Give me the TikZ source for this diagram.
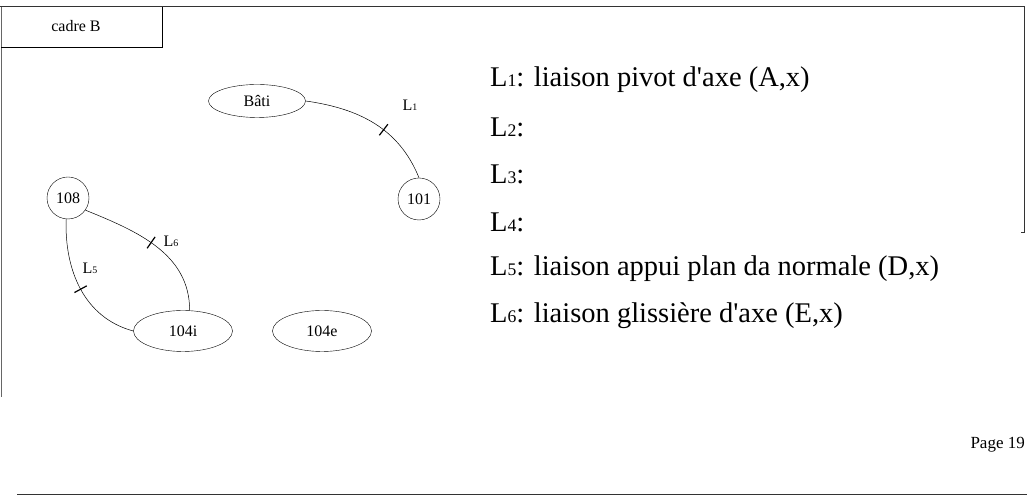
\documentclass[tikz,border=0pt]{standalone}
\usepackage{fontspec}
\setmainfont{Liberation Serif}[Ligatures=TeXOff]
\usetikzlibrary{shapes.geometric}
\newcommand{\Lk}[1]{L{\fontsize{0.62em}{1em}\selectfont #1}}
\tikzset{
  x=1pt, y=1pt,
  frameline/.style={line width=1pt, black!80},
  part/.style={draw, ellipse, inner sep=0pt, font=\fontsize{16}{18}\selectfont},
  round part/.style={draw, circle, inner sep=0pt, minimum size=42pt, font=\fontsize{16}{18}\selectfont},
  link/.style={line width=0.5pt},
  linkmark/.style={sloped, draw, rectangle, line width=1.2pt, minimum width=0pt, minimum height=14pt, inner sep=0pt},
  linklabel/.style={font=\fontsize{16}{18}\selectfont, inner sep=0pt},
  legend/.style={anchor=west, inner sep=0pt, font=\fontsize{28.5}{32}\selectfont}
}
\begin{document}
\begin{tikzpicture}
\useasboundingbox (0,0) rectangle (1027,497);
% page frame
\draw[frameline] (0,490) -- (1024,490) -- (1024,264) -- (1021,264);
\draw[frameline, black!60] (1,490) -- (1,100);
\draw[frameline] (17,2) -- (1027,2);
% title box
\draw[line width=0.7pt] (1,450) -- (162,450) -- (162,490);
\node[inner sep=0pt, font=\fontsize{16}{18}\selectfont] (title) at (76,471) {cadre B};
% parts
\node[part, minimum width=97pt, minimum height=33pt] (bati) at (257,396) {Bâti};
\node[round part] (p101) at (419,298) {101};
\node[round part] (p108) at (68,299) {108};
\node[part, minimum width=99pt, minimum height=41pt] (p104i) at (183,166) {104i};
\node[part, minimum width=99pt, minimum height=41pt] (p104e) at (322,166) {104e};
% links
\draw[link] (bati.east) to[out=-8, in=112] node[pos=0.58, linkmark]{} (p101.north);
\node[linklabel] (l1) at (410,392) {\Lk{1}};
\draw[link] (p108.-35) to[out=-22, in=90] node[pos=0.45, linkmark]{} (p104i.72);
\node[linklabel] (l6) at (171,256) {\Lk{6}};
\draw[link] (p108.-95) to[out=-92, in=165] node[pos=0.5, linkmark]{} (p104i.west);
\node[linklabel] (l5) at (90,229) {\Lk{5}};
% legend
\node[legend] (t1) at (490,417) {\Lk{1}: liaison pivot d'axe (A,x)};
\node[legend] (t2) at (490,370) {\Lk{2}:};
\node[legend] (t3) at (490,323) {\Lk{3}:};
\node[legend] (t4) at (490,275) {\Lk{4}:};
\node[legend] (t5) at (490,228) {\Lk{5}: liaison appui plan da normale (D,x)};
\node[legend] (t6) at (490,181) {\Lk{6}: liaison glissière d'axe (E,x)};
\node[anchor=east, inner sep=0pt, font=\fontsize{17}{20}\selectfont] (page) at (1025,52) {Page 19};
\end{tikzpicture}
\end{document}
